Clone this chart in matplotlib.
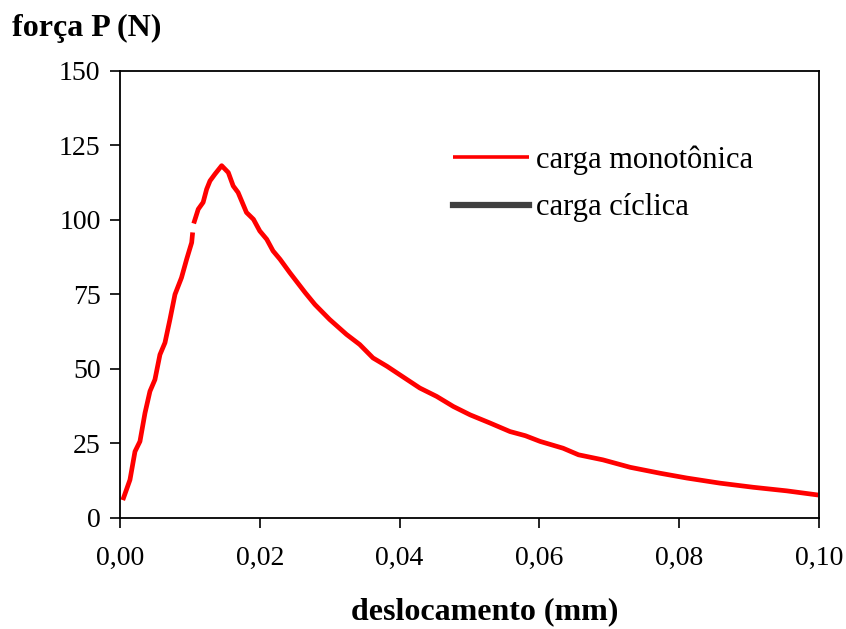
import numpy as np
import matplotlib
matplotlib.use("Agg")
import matplotlib.pyplot as plt

# Monotonic load curve: displacement (mm) vs force P (N)
desloc_mono = [0.0004, 0.00143, 0.00215, 0.00286, 0.00358, 0.00429, 0.0050, 0.00572,
               0.00644, 0.00715, 0.00787, 0.0088, 0.00954, 0.01026, 0.01040, 0.01048,
               0.01055, 0.0112, 0.0119, 0.0124, 0.01288, 0.0136, 0.01455, 0.0155,
               0.0162, 0.0169, 0.0181, 0.0191, 0.0200, 0.0210, 0.0219, 0.0229,
               0.0243, 0.0265, 0.0279, 0.0300, 0.0324, 0.0343, 0.0362, 0.0382,
               0.0400, 0.0429, 0.0453, 0.0477, 0.0501, 0.0529, 0.0558, 0.0580,
               0.0601, 0.0634, 0.0656, 0.0691, 0.0730, 0.0773, 0.0811, 0.0858,
               0.0906, 0.0954, 0.0999]
forca_mono = [6.0, 12.8, 22.3, 25.7, 35.2, 42.5, 46.4, 54.8,
              58.8, 66.6, 75.0, 80.6, 86.8, 92.4, 95.8, np.nan,
              98.8, 103.6, 105.9, 110.3, 113.1, 115.4, 118.2, 115.9,
              111.4, 109.2, 102.5, 100.2, 96.3, 93.5, 89.6, 86.8,
              82.3, 75.6, 71.6, 66.6, 61.6, 58.2, 53.7, 50.9,
              48.1, 43.6, 40.8, 37.4, 34.6, 31.9, 29.0, 27.6,
              25.7, 23.4, 21.2, 19.5, 17.0, 15.0, 13.4, 11.7,
              10.3, 9.1, 7.7]

# Cyclic load series (listed in the legend)
desloc_cicl = []
forca_cicl = []

x_ticks = [0.00, 0.02, 0.04, 0.06, 0.08, 0.10]
x_tick_labels = ["0,00", "0,02", "0,04", "0,06", "0,08", "0,10"]
y_ticks = [0, 25, 50, 75, 100, 125, 150]

plt.rcParams["font.family"] = ["Liberation Serif", "DejaVu Serif"]

fig = plt.figure(figsize=(8.46, 6.29), dpi=100)
ax = fig.add_axes([0.1418, 0.1765, 0.8262, 0.7108])

ax.plot(desloc_mono, forca_mono, color="#ff0000", lw=3.4,
        solid_joinstyle="round", solid_capstyle="butt", label="carga monotônica")
ax.plot(desloc_cicl, forca_cicl, color="#404040", lw=4.0, label="carga cíclica")

ax.set_xlim(0, 0.10)
ax.set_ylim(0, 150)
ax.set_xticks(x_ticks)
ax.set_xticklabels(x_tick_labels)
ax.set_yticks(y_ticks)
ax.tick_params(direction="out", length=7, width=1.2, labelsize=20, pad=7,
               colors="black")
ax.tick_params(axis="x", pad=13)
for sp in ax.spines.values():
    sp.set_linewidth(1.3)

fig.text(0.014, 0.955, "força P (N)", fontsize=23, fontweight="bold",
         ha="left", va="center")
fig.text(0.573, 0.027, "deslocamento (mm)", fontsize=23, fontweight="bold",
         ha="center", va="center")

leg = ax.legend(loc="upper left", bbox_to_anchor=(0.476, 0.833), frameon=False,
                fontsize=22, handlelength=2.5, handletextpad=0.23,
                labelspacing=0.6, borderaxespad=0, borderpad=0)
leg.get_lines()[0].set_linewidth(2.6)
leg.get_lines()[1].set_linewidth(4.5)

fig.savefig("out.png", dpi=100, facecolor="white")
